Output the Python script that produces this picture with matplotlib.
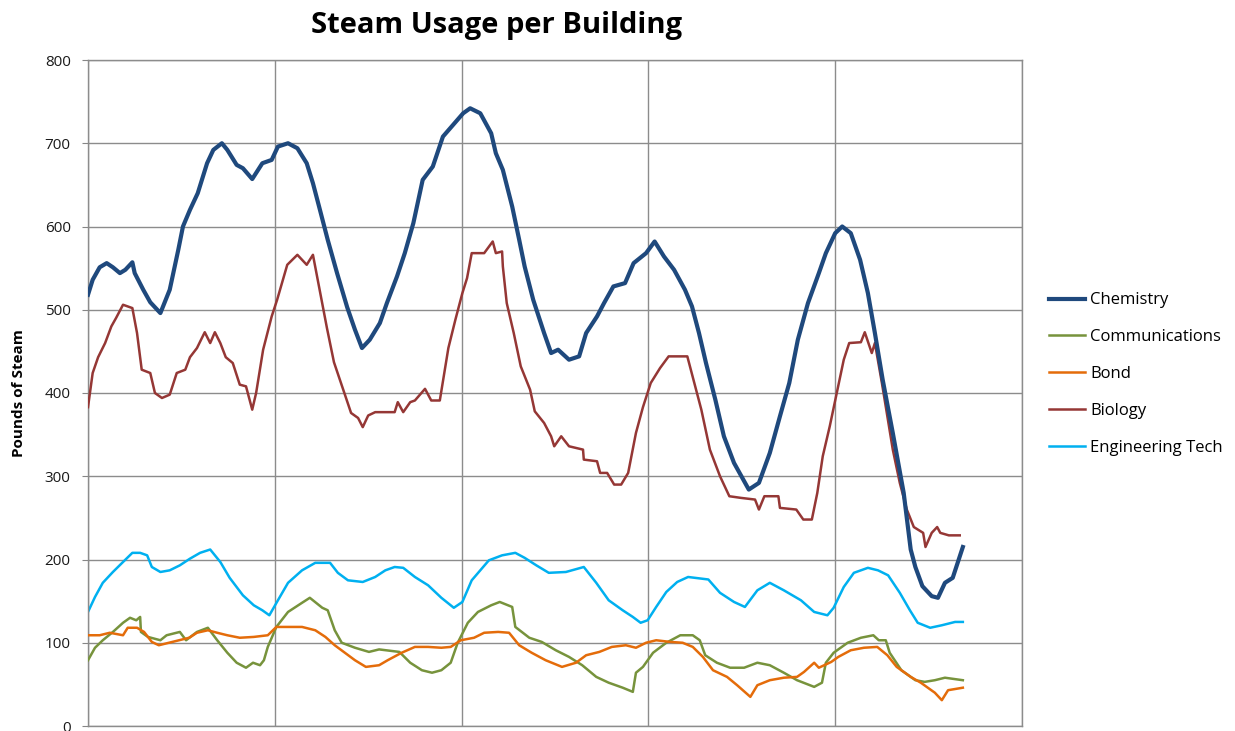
#!/usr/bin/env python3
# steam_usage.py

import matplotlib
matplotlib.use("Agg")
import matplotlib.pyplot as plt

chem_t = [0.0, 0.6, 1.5, 2.4, 3.2, 4.1, 4.8, 5.7, 6.0, 7.1, 8.0, 9.3, 10.5, 11.6, 12.2,
          13.1, 14.1, 15.3, 16.1, 17.2, 17.9, 19.1, 19.9, 21.1, 22.4, 23.6, 24.4, 25.7,
          26.9, 28.1, 28.9, 29.8, 30.8, 32.0, 33.3, 34.3, 35.2, 36.2, 37.5, 38.4, 39.7,
          40.7, 41.8, 43.0, 44.3, 45.6, 46.9, 48.2, 49.1, 50.4, 51.8, 52.4, 53.3, 54.5,
          55.4, 56.1, 57.2, 58.6, 59.5, 60.4, 61.8, 63.1, 64.0, 65.4, 66.3, 67.5, 69.0,
          70.1, 71.7, 72.8, 74.0, 75.3, 76.7, 77.6, 78.5, 79.4, 80.6, 81.7, 83.0, 84.9,
          86.2, 87.6, 88.9, 90.1, 91.2, 92.5, 93.9, 94.8, 96.0, 96.9, 98.0, 99.2, 100.2,
          101.1, 102.1, 103.4, 104.8, 105.7, 106.3, 107.2, 108.4, 109.2, 110.1, 111.1, 112.4]
chem_v = [518, 536, 551, 556, 551, 544, 548, 557, 544, 524, 509, 496, 524, 572, 600,
          620, 640, 676, 692, 700, 692, 674, 670, 657, 676, 680, 696, 700,
          694, 676, 652, 620, 584, 544, 503, 476, 454, 464, 484, 508, 540,
          568, 604, 656, 672, 708, 722, 736, 742, 736, 712, 688, 668, 624,
          584, 552, 512, 472, 448, 452, 440, 444, 472, 492, 508, 528, 532,
          556, 568, 582, 564, 548, 524, 504, 472, 436, 392, 348, 316, 284,
          292, 328, 372, 412, 464, 508, 544, 568, 592, 600, 592, 560, 520,
          472, 416, 352, 280, 212, 191, 168, 156, 154, 172, 178, 215]

comm_t = [0.0, 0.9, 1.9, 3.2, 4.5, 5.4, 6.2, 6.7, 6.8, 7.7, 9.3, 10.1, 11.8, 12.6, 14.0,
          15.4, 16.6, 17.9, 19.1, 20.3, 21.2, 22.1, 22.6, 23.1, 24.2, 25.7, 27.5, 28.5,
          30.1, 30.8, 31.7, 32.6, 34.3, 36.1, 37.4, 40.0, 41.4, 42.9, 44.2, 45.4, 46.6,
          47.5, 48.8, 50.1, 51.8, 52.9, 54.5, 54.9, 56.7, 58.3, 60.1, 61.8, 63.5, 65.3,
          66.9, 68.7, 70.0, 70.4, 71.3, 72.6, 74.3, 76.1, 77.7, 78.6, 79.3, 80.8, 82.5,
          84.3, 86.0, 87.6, 89.4, 91.1, 93.3, 94.3, 94.8, 95.8, 97.6, 99.3, 100.9, 101.6,
          102.5, 103.0, 104.5, 106.3, 107.5, 108.8, 110.1, 112.4]
comm_v = [79, 94, 103, 113, 124, 130, 127, 131, 113, 107, 103, 109, 113, 103, 113,
          118, 103, 88, 76, 70, 76, 73, 79, 95, 119, 137, 148, 154,
          142, 139, 115, 100, 94, 89, 92, 89, 76, 67, 64, 67, 76,
          100, 124, 137, 145, 149, 143, 119, 106, 101, 91, 83, 73, 59,
          52, 46, 41, 64, 71, 88, 100, 109, 109, 103, 85, 76, 70,
          70, 76, 73, 64, 55, 47, 52, 76, 88, 100, 106, 109, 103,
          103, 88, 67, 55, 53, 55, 58, 55]

bond_t = [0.0, 1.5, 2.8, 4.5, 5.1, 6.3, 7.2, 8.2, 9.1, 10.4, 11.7, 13.0, 14.0, 15.4,
          16.6, 17.9, 19.5, 21.3, 23.1, 24.2, 25.7, 27.5, 29.2, 30.5, 31.7, 33.0, 34.3,
          35.7, 37.4, 38.5, 40.3, 42.0, 43.7, 45.4, 46.6, 47.9, 49.6, 50.9, 52.7, 54.1,
          55.4, 57.0, 58.8, 60.9, 62.7, 64.0, 65.7, 67.3, 69.1, 70.4, 71.7, 73.0, 74.8,
          76.4, 77.7, 79.0, 80.3, 82.1, 83.4, 85.1, 86.0, 87.6, 89.4, 91.1, 92.0, 93.3,
          93.9, 95.5, 96.4, 98.0, 99.7, 101.4, 102.7, 103.9, 105.7, 107.0, 108.8, 109.7,
          110.5, 112.4]
bond_v = [109, 109, 112, 109, 118, 118, 113, 101, 97, 100, 103, 106, 112, 115,
          112, 109, 106, 107, 109, 119, 119, 119, 115, 107, 97, 88, 79,
          71, 73, 79, 88, 95, 95, 94, 95, 103, 106, 112, 113, 112,
          97, 88, 79, 71, 76, 85, 89, 95, 97, 94, 100, 103, 101,
          100, 95, 83, 67, 59, 49, 35, 49, 55, 58, 59, 65, 76,
          70, 77, 83, 91, 94, 95, 85, 71, 59, 52, 40, 31,
          43, 46]

bio_t = [0.0, 0.6, 1.3, 2.2, 3.0, 3.6, 4.5, 5.7, 6.3, 6.9, 8.0, 8.6, 9.5, 10.5, 11.4,
         12.5, 13.1, 14.0, 15.0, 15.7, 16.3, 17.0, 17.7, 18.6, 19.5, 20.3, 21.1, 21.6,
         22.5, 23.6, 24.3, 25.6, 26.9, 28.1, 28.9, 29.8, 30.7, 31.6, 32.9, 33.8, 34.7,
         35.3, 36.0, 36.9, 39.4, 39.8, 40.5, 41.4, 42.0, 43.3, 44.1, 45.2, 46.3, 47.2,
         48.1, 48.7, 49.3, 50.9, 52.0, 52.4, 53.2, 53.3, 53.8, 54.7, 55.6, 56.8, 57.4,
         58.6, 59.5, 59.9, 60.8, 61.8, 63.6, 63.7, 65.4, 65.8, 66.7, 67.6, 68.5, 69.4,
         70.4, 71.3, 72.3, 73.5, 74.6, 77.0, 77.9, 78.8, 79.9, 81.2, 82.4, 83.9, 85.7,
         86.2, 86.9, 88.7, 88.9, 91.0, 91.9, 93.0, 93.7, 94.4, 95.3, 96.2, 97.1, 97.8,
         99.3, 99.8, 100.7, 101.1, 102.0, 103.4, 104.3, 105.2, 106.1, 107.3, 107.6, 108.4,
         109.1, 109.5, 110.6, 112.0]
bio_v = [383, 424, 443, 460, 480, 490, 506, 502, 472, 428, 424, 400, 394, 398, 424,
         428, 443, 454, 473, 460, 473, 460, 443, 436, 410, 408, 380, 400,
         452, 492, 512, 554, 566, 554, 566, 522, 478, 437, 401, 376, 370,
         359, 373, 377, 377, 389, 377, 389, 391, 405, 391, 391, 454, 488,
         520, 538, 568, 568, 582, 568, 570, 552, 508, 472, 432, 404, 378,
         364, 348, 336, 348, 336, 332, 320, 318, 304, 304, 290, 290, 304,
         352, 383, 412, 430, 444, 444, 412, 380, 332, 300, 276, 274, 272,
         260, 276, 276, 262, 260, 248, 248, 280, 324, 360, 400, 440, 460,
         461, 473, 448, 460, 412, 332, 292, 260, 239, 232, 215, 232,
         239, 232, 229, 229]

eng_t = [0.0, 0.9, 1.9, 3.2, 4.5, 5.7, 6.7, 7.6, 8.2, 9.3, 10.5, 11.8, 13.1, 14.4, 15.7,
         17.0, 18.2, 19.9, 21.3, 22.4, 23.3, 24.4, 25.7, 27.5, 29.2, 31.1, 32.1, 33.4,
         35.3, 36.9, 38.2, 39.4, 40.5, 42.0, 43.7, 45.4, 47.0, 48.1, 49.3, 51.5, 53.2,
         54.9, 56.1, 57.6, 59.2, 61.4, 63.7, 65.3, 66.9, 68.7, 70.0, 71.0, 71.9, 73.0,
         74.3, 75.7, 77.1, 79.7, 81.2, 83.0, 84.4, 86.0, 87.6, 89.4, 91.6, 93.3, 95.0,
         95.8, 97.1, 98.4, 100.2, 101.5, 102.8, 104.3, 105.6, 106.6, 108.2, 109.7, 111.4,
         112.4]
eng_v = [137, 155, 172, 185, 197, 208, 208, 205, 191, 185, 187, 193, 201, 208, 212,
         197, 178, 157, 145, 139, 133, 151, 172, 187, 196, 196, 184, 175,
         173, 179, 187, 191, 190, 179, 169, 154, 142, 149, 175, 199, 205,
         208, 202, 193, 184, 185, 191, 172, 151, 139, 131, 124, 127, 143,
         161, 173, 179, 176, 160, 149, 143, 163, 172, 163, 151, 137, 133,
         142, 167, 184, 190, 187, 181, 160, 139, 124, 118, 121, 125,
         125]

series = ["Chemistry", "Communications", "Bond", "Biology", "Engineering Tech"]
colors = ["#1F497D", "#77933C", "#E46C0A", "#953735", "#00B0F0"]
y_ticks = [0, 100, 200, 300, 400, 500, 600, 700, 800]


def plot(ax):
    data = [(chem_t, chem_v), (comm_t, comm_v), (bond_t, bond_v),
            (bio_t, bio_v), (eng_t, eng_v)]
    # draw so Chemistry sits on top, but keep legend order
    zorders = [6, 3, 4, 5, 2]
    widths = [3.0, 1.8, 1.8, 1.8, 1.8]
    for name, (t, v), c, z, w in zip(series, data, colors, zorders, widths):
        ax.plot(t, v, color=c, lw=w, zorder=z, label=name,
                solid_joinstyle="round")

    ax.set_xlim(0, 120)
    ax.set_ylim(0, 800)
    ax.set_xticks([0, 24, 48, 72, 96, 120])
    ax.set_xticklabels([])
    ax.set_yticks(y_ticks)
    ax.tick_params(axis="x", length=0)
    ax.tick_params(axis="y", length=4.5, color="#868686", labelsize=11,
                   labelcolor="#1a1a1a", pad=8)
    ax.grid(color="#8c8c8c", lw=1.0)
    ax.set_axisbelow(True)
    for s in ax.spines.values():
        s.set_color("#8c8c8c")
        s.set_linewidth(1.0)


def main():
    plt.rcParams["font.family"] = ["Open Sans", "DejaVu Sans"]
    fig = plt.figure(figsize=(12.35, 7.31), dpi=100)
    ax = fig.add_axes([88 / 1235, 5 / 731, 934 / 1235, 666 / 731])
    plot(ax)

    fig.text(497 / 1235, 1 - 25 / 731, "Steam Usage per Building",
             ha="center", va="center", fontsize=21, fontweight="bold")
    fig.text(19 / 1235, (731 - 393) / 731, "Pounds of Steam", rotation=90,
             ha="center", va="center", fontsize=11, fontweight="bold")

    fig.legend(loc="center left", bbox_to_anchor=(1042 / 1235, (731 - 374) / 731),
               frameon=False, fontsize=12, handlelength=2.2, handletextpad=0.3,
               labelspacing=1.25, borderaxespad=0)

    fig.savefig("out.png", dpi=100)


if __name__ == "__main__":
    main()
